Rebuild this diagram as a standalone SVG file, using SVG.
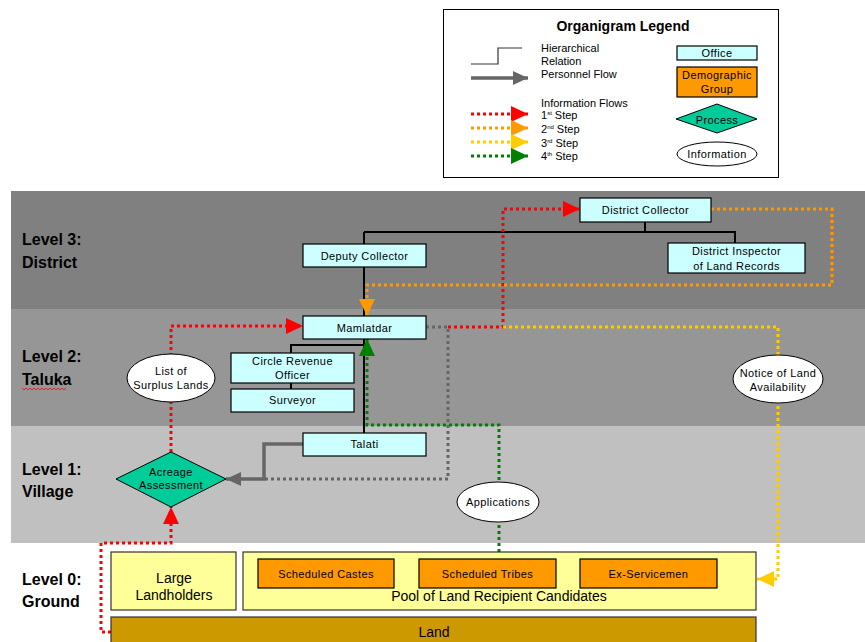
<svg xmlns="http://www.w3.org/2000/svg" width="865" height="642" viewBox="0 0 865 642">
<style>
text{font-family:"Liberation Sans",Arial,sans-serif;fill:#000}
.lvl{font-size:16px;font-weight:bold}
.n{font-size:11px;text-anchor:middle;letter-spacing:0.4px}
.lg{font-size:11px}
.big{font-size:14px;text-anchor:middle}
.office{fill:#CCFFFF;stroke:#000;stroke-width:1.2}
.demo{fill:#FF9900;stroke:#000;stroke-width:1.2}
.pool{fill:#FFFF99;stroke:#333;stroke-width:1.2}
.info{fill:#fff;stroke:#000;stroke-width:1}
.proc{fill:#00CC99;stroke:#000;stroke-width:1}
.hier{fill:none;stroke:#000;stroke-width:2}
.dot{fill:none;stroke-width:3;stroke-dasharray:3 3}
.red{stroke:#FF0000}
.org{stroke:#FF9900}
.yel{stroke:#FFCC00}
.grn{stroke:#008000}
.gry{stroke:#666666}
.pers{fill:none;stroke:#666666;stroke-width:3.5}
</style>
<defs>
<marker id="aR" markerUnits="userSpaceOnUse" markerWidth="18" markerHeight="16" refX="17" refY="8" orient="auto"><path d="M0,0 L17,8 L0,16 Z" fill="#FF0000"/></marker>
<marker id="aO" markerUnits="userSpaceOnUse" markerWidth="18" markerHeight="16" refX="17" refY="8" orient="auto"><path d="M0,0 L17,8 L0,16 Z" fill="#FF9900"/></marker>
<marker id="aY" markerUnits="userSpaceOnUse" markerWidth="18" markerHeight="16" refX="17" refY="8" orient="auto"><path d="M0,0 L17,8 L0,16 Z" fill="#FFCC00"/></marker>
<marker id="aG" markerUnits="userSpaceOnUse" markerWidth="18" markerHeight="16" refX="17" refY="8" orient="auto"><path d="M0,0 L17,8 L0,16 Z" fill="#008000"/></marker>
<marker id="aP" markerUnits="userSpaceOnUse" markerWidth="16" markerHeight="14" refX="15" refY="7" orient="auto"><path d="M0,0 L15,7 L0,14 Z" fill="#666666"/></marker>
</defs>
<rect width="865" height="642" fill="#fff"/>

<!-- bands -->
<g id="bands">
<rect x="11" y="191" width="854" height="118" fill="#808080"/>
<rect x="11" y="309" width="854" height="117" fill="#969696"/>
<rect x="11" y="426" width="854" height="117" fill="#C0C0C0"/>
<text class="lvl" x="22" y="245">Level 3:</text>
<text class="lvl" x="22" y="268">District</text>
<text class="lvl" x="22" y="362">Level 2:</text>
<text class="lvl" x="22" y="385">Taluka</text>
<path d="M22,388 l2,2 l2,-2 l2,2 l2,-2 l2,2 l2,-2 l2,2 l2,-2 l2,2 l2,-2 l2,2 l2,-2 l2,2 l2,-2 l2,2 l2,-2 l2,2 l2,-2 l2,2 l2,-2 l2,2 l2,-2" fill="none" stroke="#FF0000" stroke-width="0.8"/>
<text class="lvl" x="22" y="475">Level 1:</text>
<text class="lvl" x="22" y="497">Village</text>
<text class="lvl" x="22" y="585">Level 0:</text>
<text class="lvl" x="22" y="607">Ground</text>
</g>

<!-- legend -->
<g id="legend">
<rect x="443.5" y="9.5" width="335" height="168" fill="#fff" stroke="#000" stroke-width="1"/>
<text x="623" y="31" font-size="14" font-weight="bold" text-anchor="middle">Organigram Legend</text>
<path d="M471,64 H498 V48 H522" fill="none" stroke="#333" stroke-width="1.2"/>
<path d="M471,78 H528" class="pers" marker-end="url(#aP)"/>
<path d="M471,114 H528" class="dot red" marker-end="url(#aR)"/>
<path d="M471,128 H528" class="dot org" marker-end="url(#aO)"/>
<path d="M471,142 H528" class="dot yel" marker-end="url(#aY)"/>
<path d="M471,156 H528" class="dot grn" marker-end="url(#aG)"/>
<text class="lg" x="541" y="52">Hierarchical</text>
<text class="lg" x="541" y="65">Relation</text>
<text class="lg" x="541" y="78">Personnel Flow</text>
<text class="lg" x="541" y="107">Information Flows</text>
<text class="lg" x="541" y="119">1<tspan font-size="6" dy="-4">st</tspan><tspan dy="4"> Step</tspan></text>
<text class="lg" x="541" y="133">2<tspan font-size="6" dy="-4">nd</tspan><tspan dy="4"> Step</tspan></text>
<text class="lg" x="541" y="147">3<tspan font-size="6" dy="-4">rd</tspan><tspan dy="4"> Step</tspan></text>
<text class="lg" x="541" y="160">4<tspan font-size="6" dy="-4">th</tspan><tspan dy="4"> Step</tspan></text>
<rect class="office" x="677" y="46" width="80" height="14"/>
<text class="n" x="717" y="57">Office</text>
<rect class="demo" x="677" y="67" width="80" height="30"/>
<text class="n" x="717" y="79">Demographic</text>
<text class="n" x="717" y="93">Group</text>
<path class="proc" d="M676,119 L717,104 L757,119 L717,133 Z"/>
<text class="n" x="717" y="124">Process</text>
<ellipse class="info" cx="717" cy="154" rx="40" ry="12"/>
<text class="n" x="717" y="158">Information</text>
</g>

<!-- connectors -->
<g id="connectors">
<path class="hier" d="M645,222 V232 M364,232 H735 V243 M364,232 V244 M364,267 V316 M364,339 V433 M364,345 H291 V353 M291,383 V389"/>
<path class="dot gry" d="M426,327 H448 V479 H264"/>
<path class="pers" d="M303,444 H264 V479 H226" marker-end="url(#aP)"/>
<path class="dot red" d="M111,632 H101 V543 H171 V507" marker-end="url(#aR)"/>
<path class="dot red" d="M171,452 V326 H303" marker-end="url(#aR)"/>
<path class="dot red" d="M448,327 H503 V209 H580" marker-end="url(#aR)"/>
<path class="dot org" d="M711,209 H832 V285 H367 V316" marker-end="url(#aO)"/>
<path class="dot yel" d="M503,327 H778 V579 H757" marker-end="url(#aY)"/>
<path class="dot grn" d="M499,552 V425 H367 V339" marker-end="url(#aG)"/>
</g>

<!-- nodes -->
<g id="district-collector">
<rect class="office" x="580" y="198" width="131" height="24"/>
<text class="n" x="645.5" y="214">District Collector</text>
</g>
<g id="deputy-collector">
<rect class="office" x="303" y="244" width="123" height="23"/>
<text class="n" x="364.5" y="260">Deputy Collector</text>
</g>
<g id="dilr">
<rect class="office" x="668" y="243" width="137" height="30"/>
<text class="n" x="736.5" y="255">District Inspector</text>
<text class="n" x="736.5" y="270">of Land Records</text>
</g>
<g id="mamlatdar">
<rect class="office" x="303" y="316" width="123" height="23"/>
<text class="n" x="364.5" y="332">Mamlatdar</text>
</g>
<g id="cro">
<rect class="office" x="231" y="353" width="123" height="30"/>
<text class="n" x="292.5" y="365">Circle Revenue</text>
<text class="n" x="292.5" y="379">Officer</text>
</g>
<g id="surveyor">
<rect class="office" x="231" y="389" width="123" height="23"/>
<text class="n" x="292.5" y="404">Surveyor</text>
</g>
<g id="talati">
<rect class="office" x="303" y="433" width="123" height="23"/>
<text class="n" x="364.5" y="448">Talati</text>
</g>
<g id="list-surplus">
<ellipse class="info" cx="171" cy="378" rx="44" ry="24"/>
<text class="n" x="171" y="375">List of</text>
<text class="n" x="171" y="389">Surplus Lands</text>
</g>
<g id="notice">
<ellipse class="info" cx="778" cy="379" rx="45" ry="24"/>
<text class="n" x="778" y="377">Notice of Land</text>
<text class="n" x="778" y="391">Availability</text>
</g>
<g id="applications">
<ellipse class="info" cx="498" cy="502" rx="41" ry="20"/>
<text class="n" x="498" y="506">Applications</text>
</g>
<g id="acreage">
<path class="proc" d="M116,479 L171,452 L226,479 L171,507 Z"/>
<text class="n" x="171" y="476" font-size="10" letter-spacing="0">Acreage</text>
<text class="n" x="171" y="489" font-size="10" letter-spacing="0">Assessment</text>
</g>
<g id="large-landholders">
<rect class="pool" x="111" y="552" width="125" height="58"/>
<text class="big" x="174" y="583">Large</text>
<text class="big" x="174" y="600">Landholders</text>
</g>
<g id="pool">
<rect class="pool" x="243" y="552" width="513" height="58"/>
<text class="big" x="499" y="601">Pool of Land Recipient Candidates</text>
</g>
<g id="scheduled-castes">
<rect class="demo" x="258" y="559" width="136" height="29"/>
<text class="n" x="326" y="578">Scheduled Castes</text>
</g>
<g id="scheduled-tribes">
<rect class="demo" x="419" y="559" width="137" height="29"/>
<text class="n" x="487.5" y="578">Scheduled Tribes</text>
</g>
<g id="ex-servicemen">
<rect class="demo" x="580" y="559" width="137" height="29"/>
<text class="n" x="648.5" y="578">Ex-Servicemen</text>
</g>
<g id="land">
<rect x="111" y="617" width="645" height="30" fill="#CC9900" stroke="#333" stroke-width="1.2"/>
<text class="big" x="434" y="637">Land</text>
</g>
</svg>
